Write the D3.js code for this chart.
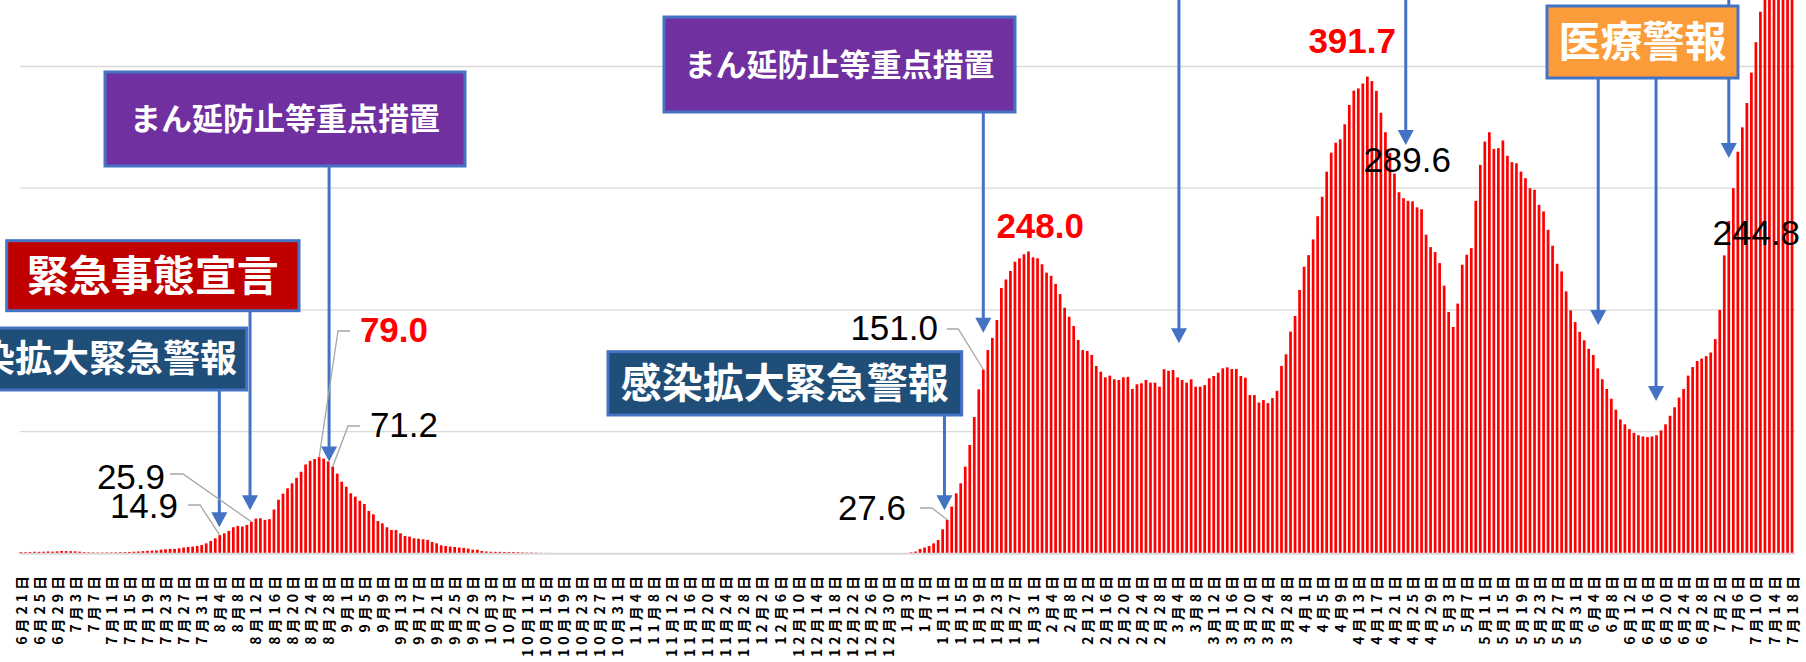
<!DOCTYPE html>
<html><head><meta charset="utf-8">
<script src="https://cdn.jsdelivr.net/npm/d3@7"></script>
<style>
html,body{margin:0;padding:0;background:#fff;overflow:hidden;}
</style></head>
<body>
<svg id="chart" width="1806" height="662"></svg>
<script>
// ---- data ----
const startDate = "2021-06-21";
const endDate = "2022-07-18";
const values = [
// 6/21 - 7/21
1.0,0.9,1.1,1.3,1.2,1.3,1.5,1.4,1.6,1.9,1.8,1.7,1.6,1.3,1.0,0.8,0.7,0.6,0.6,0.7,0.7,0.8,0.9,1.0,1.1,1.3,1.5,1.8,2.0,2.2,2.4,
// 7/22 - 8/20
3.0,3.3,3.6,3.6,4.1,4.7,5.2,5.5,6.0,6.8,8.2,10.1,12.3,14.9,16.4,18.4,21.4,22.5,22.0,23.3,25.9,28.5,28.8,27.4,28.0,36.0,44.0,49.0,53.4,57.5,
// 8/21 - 8/30
62,67,73,76,77.5,79.0,77.8,75.5,71.2,65.5,
// 8/31 - 10/1
58.8,54.7,49.3,46.5,43.2,40.5,34.8,32.0,26.5,24.6,21.4,19.1,19.1,16.4,14.2,13.7,12.3,12.0,11.5,11.0,9.3,8.2,6.6,6.0,5.5,5.2,4.7,4.4,3.8,3.0,3.0,1.9,
// 10/2 - 10/14
1.5,1.3,1.2,1.2,1.1,1.0,1.0,0.9,0.7,0.6,0.6,0.5,0.4,
// 10/15 - 1/3
0.3,0.3,0.2,0.2,0.2,0.1,0.1,0.1,0.1,0.1,0,0,0,0,0,0,0,0,0,0,
0,0,0,0,0,0,0,0,0,0,0,0,0,0,0,0,0,0,0,0,
0,0,0,0,0,0,0,0,0,0,0,0,0,0,0,0,0,0,0,0,
0,0,0,0,0,0,0,0,0,0,0,0,0,0,0,0,0,0,0.1,0.2,0.3,
// 1/4 - 1/15
0.8,1.4,3.6,4.7,6.0,8.2,11.0,19.7,27.6,38.4,49.3,57.5,
// 1/16 - 2/14
71.2,89,112,134.7,151.0,167,177,191.7,218,225,232,239.6,242.4,245.7,248.0,243.2,242.4,237.5,230.6,228,221.3,213,201.8,194.4,186.8,175.3,167,166.2,163,153.9,
// 2/15 - 3/26
149.2,144.6,146,143,142.4,144.6,145,135,138.9,139.7,142.4,140.2,140.2,136.9,151.2,150,150.6,144.6,142.4,140.2,143,136.9,136.9,138.2,143.8,145.7,148.4,152,152.8,151.4,151.4,145.7,144.3,130,130,123.9,126,123.4,127.5,133.5,
// 3/27 - 4/11
154,163.5,182.2,195,216.4,235.5,245,257.9,277,293,313.6,329.2,337.4,340.2,352.5,368.4,
// 4/12 - 5/30
380.2,382,386,391.7,388,380,362,346,329,312,296.7,291.8,289.6,289.2,284.3,282.7,261.8,251.6,247.5,238.5,219.9,198.3,186,205.2,237.1,245.3,250.8,289.6,319.1,338.3,346,332.3,332.9,339.2,326.6,321.4,320.5,313.7,308.2,300,298.7,286.3,280.9,265.8,252.7,237.9,231.6,215.2,199.6,
// 5/31 - 7/18
190,182,175,168,163,152,143,135,127,118,110,106,102,99,97,96,95.5,96,97,101,106,113,120,128,135,146,153,158,160,162,165,176,200,244.8,273,300,330,350,370,395,420,445,470,500,530,560,590,620,650
];
const gridValues = [100,200,300,400];

const valueLabels = [
  {i:44,  text:"14.9",  color:"#000", bold:false},
  {i:51,  text:"25.9",  color:"#000", bold:false},
  {i:66,  text:"79.0",  color:"#ff0000", bold:true},
  {i:69,  text:"71.2",  color:"#000", bold:false},
  {i:205, text:"27.6",  color:"#000", bold:false},
  {i:213, text:"151.0", color:"#000", bold:false},
  {i:223, text:"248.0", color:"#ff0000", bold:true},
  {i:298, text:"391.7", color:"#ff0000", bold:true},
  {i:307, text:"289.6", color:"#000", bold:false},
  {i:377, text:"244.8", color:"#000", bold:false}
];

// ---- scales ----
const parse = d3.timeParse("%Y-%m-%d");
const dates = d3.timeDay.range(parse(startDate), d3.timeDay.offset(parse(endDate),1));
const svg = d3.select("#chart");
const x = d3.scaleBand().domain(d3.range(dates.length)).range([18.7, 1794.3]).paddingInner(0.4).paddingOuter(0.2);
const step = x.step();
const xc = i => 18.7 + step*(i+0.5);
const y = d3.scaleLinear().domain([0,500]).range([553.3, -55.2]);

// grid
svg.append("g").selectAll("line").data(gridValues).join("line")
  .attr("x1",20).attr("x2",1795).attr("y1",d=>y(d)).attr("y2",d=>y(d))
  .attr("stroke","#d9d9d9").attr("stroke-width",1.3);

// bars
svg.append("g").selectAll("rect").data(values).join("rect")
  .attr("x",(d,i)=>xc(i)-step*0.3).attr("width",step*0.6)
  .attr("y",d=>y(d)).attr("height",d=>y(0)-y(d))
  .attr("fill","#ff0000");

// baseline
svg.append("line").attr("x1",19).attr("x2",1795).attr("y1",y(0)+0.5).attr("y2",y(0)+0.5)
  .attr("stroke","#d9d9d9").attr("stroke-width",2);

// x axis labels
const fmt = d => (d.getMonth()+1)+"月"+d.getDate()+"日";
const tickIdx = d3.range(0, dates.length, 4);
const xAxis = d3.axisBottom(d3.scaleLinear().domain([0,dates.length-1]).range([xc(0), xc(dates.length-1)]))
  .tickValues(tickIdx).tickSize(0).tickFormat(i=>fmt(dates[i]));
const ax = svg.append("g").attr("transform","translate(0,572)").call(xAxis);
ax.select(".domain").remove();
ax.selectAll("text")
  .attr("transform","rotate(-90)")
  .attr("x",0).attr("y",0).attr("dy","0.36em")
  .style("text-anchor","end")
  .style("font-family","'Noto Sans CJK JP', sans-serif")
  .style("font-size","14px").style("font-weight","bold")
  .style("letter-spacing","4px")
  .attr("fill","#000");

// ---- annotations ----
const ARROW = "#4472c4";
function arrow(xi, yTop, tipY){
  svg.append("line").attr("x1",xi).attr("x2",xi).attr("y1",yTop).attr("y2",tipY-13)
    .attr("stroke",ARROW).attr("stroke-width",3);
  svg.append("path").attr("d",`M${xi-8},${tipY-15}L${xi+8},${tipY-15}L${xi},${tipY}Z`).attr("fill",ARROW);
}
function box(x0,y0,x1,y1,fill,text,size,weight,tx){
  svg.append("rect").attr("x",x0).attr("y",y0).attr("width",x1-x0).attr("height",y1-y0)
    .attr("fill",fill).attr("stroke",ARROW).attr("stroke-width",3);
  svg.append("text").attr("x",tx===undefined?(x0+x1)/2:tx).attr("y",(y0+y1)/2).attr("dy","0.36em")
    .attr("text-anchor",tx===undefined?"middle":"end")
    .style("font-family","'Noto Sans CJK JP', sans-serif").style("font-size",size+"px")
    .style("font-weight",weight).attr("fill","#fff").text(text);
}
const arrows = [
  {d:43.9, top:390, tip:21.5},
  {d:50.7, top:310.7, tip:35.4},
  {d:68.2, top:166, tip:75.4},
  {d:204.4, top:415, tip:35.4},
  {d:213.0, top:112, tip:181.2},
  {d:256.3, top:0, tip:172.5},
  {d:306.5, top:0, tip:335.5},
  {d:349.1, top:78, tip:187.6},
  {d:361.9, top:78, tip:125.1},
  {d:378.0, top:0, tip:324.8}
];
arrows.forEach(a=>arrow(xc(a.d), a.top, y(a.tip)));

box(-70,328,246.7,390,"#1f4e79","感染拡大緊急警報",37,"bold",237);
box(6.7,240.7,299,310.7,"#c00000","緊急事態宣言",42,"bold");
box(105,72,465,166,"#7030a0","まん延防止等重点措置",31,"bold");
box(664,17,1015,112,"#7030a0","まん延防止等重点措置",31,"bold");
box(608,351.7,961.7,415,"#1f4e79","感染拡大緊急警報",41,"bold");
box(1547,6,1738,78,"#fb9b3a","医療警報",42,"bold");

// leader lines
const leaders = [
  [[170,474],[183,474],[xc(51),y(25.9)]],
  [[188,505],[200,505],[xc(44),y(14.9)]],
  [[350,331],[338,331],[xc(66),y(79.0)]],
  [[360,426],[348,426],[xc(69),y(71.2)]],
  [[920,508],[932,508],[xc(205),y(27.6)]],
  [[946.7,329],[958.3,329],[xc(213),y(151.0)]]
];
svg.append("g").selectAll("path").data(leaders).join("path")
  .attr("d",d=>d3.line()(d)).attr("fill","none").attr("stroke","#a6a6a6").attr("stroke-width",1.3);

const labelPos = {44:[178,518],51:[165,489],66:[428,342],69:[438,437],205:[906,520],213:[938,340],223:[1084,238],298:[1396,53],307:[1451,172],377:[1800,245]};
svg.append("g").selectAll("text").data(valueLabels).join("text")
  .attr("x",d=>labelPos[d.i][0]).attr("y",d=>labelPos[d.i][1])
  .attr("text-anchor","end")
  .style("font-family","'Liberation Sans', Arial, sans-serif").style("font-size","35px")
  .style("font-weight",d=>d.bold?"bold":"normal")
  .attr("fill",d=>d.color).text(d=>d.text);
</script>
</body></html>
